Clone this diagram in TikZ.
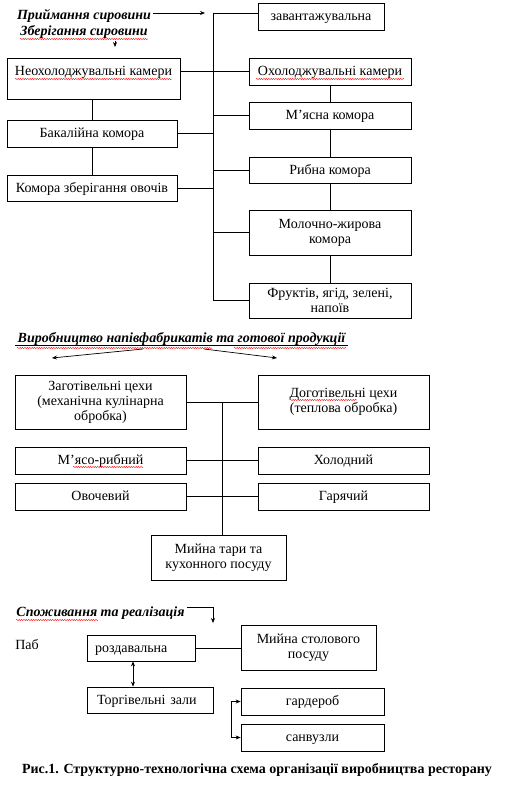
\documentclass[tikz,border=0pt]{standalone}
\usepackage{fontspec}
\setmainfont{Liberation Serif}
\usetikzlibrary{arrows.meta,positioning,decorations.pathmorphing}
\tikzset{
  sch/.style={x=1pt, y=-1pt, >={Stealth[length=5pt,width=4pt]}, line width=0.7pt,
              every node/.style={font=\fontsize{14}{15}\selectfont, inner sep=2pt}},
  box/.style={draw, rectangle, align=center},
  box1/.style={box, text height=10pt, text depth=1.5pt},
  hd/.style={font=\fontsize{14}{15}\selectfont\bfseries\itshape},
  spell/.style={draw=red, line width=0.4pt, decorate, decoration={snake, segment length=2.4pt, amplitude=0.6pt}}
}

\begin{document}
\begin{tikzpicture}[sch]
\useasboundingbox (0,0) rectangle (506,805);
\node[hd] (t1a) at (84,16) {Приймання сировини};
\node[hd] (t1b) at (84,32) {Зберігання сировини};
\node[box1, minimum width=126pt, minimum height=27pt] (zav) at (321,16.5) {завантажувальна};
\node[box, minimum width=173pt, minimum height=41pt] (neo) at (93.5,78.5) {Неохолоджувальні камери\\ \mbox{}};
\node[box1, minimum width=162pt, minimum height=27pt] (ohol) at (330,71.5) {Охолоджувальні камери};
\node[box1, minimum width=162pt, minimum height=27pt] (mjas) at (330,115.5) {М’ясна комора};
\node[box1, minimum width=162pt, minimum height=26pt] (ryb) at (330,170) {Рибна комора};
\node[box, minimum width=162pt, minimum height=45pt] (mol) at (330,232.5) {Молочно-жирова\\комора};
\node[box, minimum width=162pt, minimum height=35pt] (frukt) at (330,300.5) {Фруктів, ягід, зелені,\\напоїв};
\node[box1, minimum width=170pt, minimum height=27pt] (bak) at (92,133.5) {Бакалійна комора};
\node[box1, minimum width=170pt, minimum height=26pt] (ovo) at (92,188) {Комора зберігання овочів};
\coordinate (a1) at (205,13);
\coordinate (a2) at (115,47);
\coordinate (s1) at (213,13);
\coordinate (s2) at (213,300);
\draw[->] (t1a.east |- a1) -- (a1);
\draw[->] (t1b.south -| a2) -- (a2);
\draw (s1) -- (s2);
\draw (s1) -- (s1 -| zav.west);
\draw (ohol.west -| neo.east) -- (ohol.west);
\draw (mjas.west) -- (mjas.west -| s1);
\draw (ryb.west) -- (ryb.west -| s1);
\draw (mol.west) -- (mol.west -| s1);
\draw (frukt.west) -- (frukt.west -| s1);
\draw (bak.east) -- (bak.east -| s1);
\draw (ovo.east) -- (ovo.east -| s1);
\draw (neo.south -| bak.north) -- (bak.north); \draw (bak.south) -- (ovo.north);
\draw (ohol.south) -- (mjas.north); \draw (mjas.south) -- (ryb.north);
\draw (ryb.south) -- (mol.north); \draw (mol.south) -- (frukt.north);

\node[hd] (t2) at (181.5,339) {Виробництво напівфабрикатів та готової продукції};
\draw[line width=0.6pt] ([yshift=-2.5pt]t2.base west) -- ([yshift=-2.5pt]t2.base east);
\coordinate (b1) at (143,349); \coordinate (b2) at (52,358);
\coordinate (b3) at (204,349); \coordinate (b4) at (277,358);
\draw[->] (b1) -- (b2); \draw[->] (b3) -- (b4);
\node[box, minimum width=171pt, minimum height=54pt] (zag) at (100.5,402) {Заготівельні цехи\\(механічна кулінарна\\обробка)};
\node[box, minimum width=171pt, minimum height=54pt] (dog) at (343.5,402) {Доготівельні цехи\\(теплова обробка)};
\node[box1, minimum width=171pt, minimum height=27pt] (mr) at (100.5,460.5) {М’ясо-рибний};
\node[box1, minimum width=171pt, minimum height=27pt] (hol) at (343.5,460.5) {Холодний};
\node[box1, minimum width=171pt, minimum height=27pt] (ovch) at (100.5,496.5) {Овочевий};
\node[box1, minimum width=171pt, minimum height=27pt] (gar) at (343.5,496.5) {Гарячий};
\node[box, minimum width=135pt, minimum height=45pt] (myt) at (218.5,557.5) {Мийна тари та\\кухонного посуду};
\coordinate (c1) at (222,402);
\draw (zag.east) -- (dog.west);
\draw (c1) -- (c1 |- myt.north);
\draw (mr.east) -- (hol.west); \draw (ovch.east) -- (gar.west);

\node[hd] (t3) at (100.5,613) {Споживання та реалізація};
\coordinate (a5) at (213,607); \coordinate (a6) at (213,623);
\draw[->] (t3.east |- a5) -- (a5) -- (a6);
\node[anchor=west] (pab) at (13,645) {Паб};
\node[box1, minimum height=26pt, text width=92pt, align=left, inner xsep=8pt] (rozd) at (141,648) {роздавальна};
\node[box, minimum width=135pt, minimum height=45pt] (mst) at (308.5,647.5) {Мийна столового\\посуду};
\node[box1, minimum height=26pt, text width=106pt, align=left, inner xsep=10pt] (torg) at (150,700) {Торгівельні зали};
\node[box1, minimum width=143pt, minimum height=27pt] (gard) at (312.5,701.5) {гардероб};
\node[box1, minimum width=143pt, minimum height=27pt] (san) at (312.5,737.5) {санвузли};
\coordinate (d1) at (133,661);
\draw (rozd.east) -- (rozd.east -| mst.west);
\draw[<->] (rozd.south -| d1) -- (torg.north -| d1);
\draw[<->] (gard.west) -- ++(-9,0) |- (san.west);

\node[font=\fontsize{14}{15}\selectfont\bfseries] (cap) at (257,770) {Рис.1. Структурно-технологічна схема організації виробництва ресторану};

\draw[spell] (20,39) -- (148,39);
\draw[spell] (15,79) -- (172,79);
\draw[spell] (256,79) -- (404,79);
\draw[spell] (17,348) -- (212,348);
\draw[spell] (234,348) -- (346,348);
\draw[spell] (290,400) -- (357,400);
\draw[spell] (73,467) -- (143,467);
\draw[spell] (16,620) -- (98,620);
\end{tikzpicture}
\end{document}
